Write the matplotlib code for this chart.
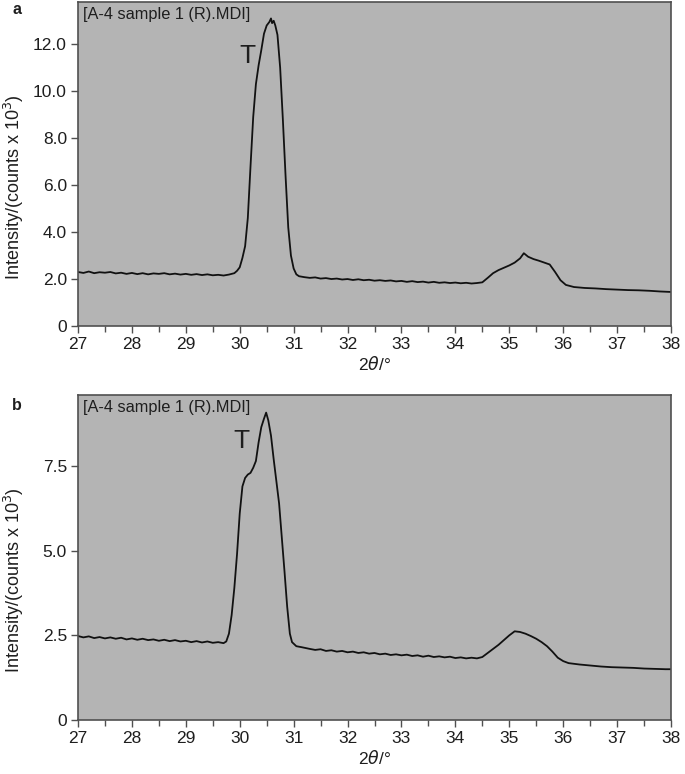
import matplotlib
matplotlib.use("Agg")
import matplotlib.pyplot as plt
from matplotlib.ticker import MultipleLocator, FixedLocator

plt.rcParams['font.family'] = ['Liberation Sans', 'DejaVu Sans']

# ---------------- data ----------------
xa = [27.0, 27.1, 27.2, 27.3, 27.4, 27.5, 27.6, 27.7, 27.8, 27.9,
      28.0, 28.1, 28.2, 28.3, 28.4, 28.5, 28.6, 28.7, 28.8, 28.9,
      29.0, 29.1, 29.2, 29.3, 29.4, 29.5, 29.6, 29.7, 29.8, 29.9,
      29.95, 30.0, 30.05, 30.1, 30.15, 30.2, 30.25, 30.3, 30.35, 30.4,
      30.45, 30.5, 30.55, 30.58, 30.6, 30.63, 30.66, 30.7, 30.75, 30.8,
      30.85, 30.9, 30.95, 31.0, 31.05, 31.1, 31.2, 31.3, 31.4, 31.5,
      31.6, 31.7, 31.8, 31.9, 32.0, 32.1, 32.2, 32.3, 32.4, 32.5,
      32.6, 32.7, 32.8, 32.9, 33.0, 33.1, 33.2, 33.3, 33.4, 33.5,
      33.6, 33.7, 33.8, 33.9, 34.0, 34.1, 34.2, 34.3, 34.4, 34.5,
      34.6, 34.7, 34.8, 34.9, 35.0, 35.1, 35.2, 35.27, 35.35, 35.45,
      35.55, 35.65, 35.75, 35.85, 35.95, 36.05, 36.2, 36.4, 36.6, 36.8,
      37.0, 37.2, 37.4, 37.6, 37.8, 38.0]
ya = [2.30, 2.26, 2.32, 2.25, 2.29, 2.27, 2.30, 2.24, 2.27, 2.22,
      2.26, 2.21, 2.25, 2.20, 2.24, 2.22, 2.25, 2.20, 2.23, 2.19,
      2.22, 2.18, 2.21, 2.17, 2.20, 2.16, 2.18, 2.15, 2.19, 2.25,
      2.35, 2.50, 2.90, 3.40, 4.60, 6.80, 8.90, 10.30, 11.10, 11.75,
      12.45, 12.80, 12.95, 13.10, 12.90, 13.00, 12.80, 12.40, 11.00, 8.80,
      6.40, 4.20, 3.00, 2.45, 2.20, 2.12, 2.08, 2.05, 2.07, 2.02,
      2.04, 2.00, 2.02, 1.98, 2.00, 1.96, 1.99, 1.95, 1.97, 1.93,
      1.95, 1.92, 1.94, 1.90, 1.92, 1.88, 1.91, 1.87, 1.89, 1.85,
      1.88, 1.84, 1.86, 1.83, 1.85, 1.82, 1.84, 1.81, 1.83, 1.86,
      2.05, 2.25, 2.38, 2.48, 2.58, 2.70, 2.88, 3.10, 2.95, 2.85,
      2.78, 2.70, 2.62, 2.30, 1.95, 1.75, 1.66, 1.62, 1.60, 1.57,
      1.55, 1.53, 1.52, 1.50, 1.47, 1.45]

xb = [27.0, 27.1, 27.2, 27.3, 27.4, 27.5, 27.6, 27.7, 27.8, 27.9,
      28.0, 28.1, 28.2, 28.3, 28.4, 28.5, 28.6, 28.7, 28.8, 28.9,
      29.0, 29.1, 29.2, 29.3, 29.4, 29.5, 29.6, 29.7, 29.75, 29.8,
      29.85, 29.9, 29.95, 30.0, 30.05, 30.1, 30.15, 30.2, 30.25, 30.3,
      30.35, 30.4, 30.45, 30.49, 30.53, 30.58, 30.63, 30.68, 30.73, 30.78,
      30.83, 30.88, 30.93, 30.97, 31.05, 31.15, 31.3, 31.4, 31.5, 31.6,
      31.7, 31.8, 31.9, 32.0, 32.1, 32.2, 32.3, 32.4, 32.5, 32.6,
      32.7, 32.8, 32.9, 33.0, 33.1, 33.2, 33.3, 33.4, 33.5, 33.6,
      33.7, 33.8, 33.9, 34.0, 34.1, 34.2, 34.3, 34.4, 34.5, 34.6,
      34.7, 34.8, 34.9, 35.0, 35.1, 35.2, 35.3, 35.4, 35.5, 35.6,
      35.7, 35.8, 35.9, 36.0, 36.1, 36.3, 36.5, 36.7, 36.9, 37.1,
      37.3, 37.5, 37.7, 37.9, 38.0]
yb = [2.48, 2.44, 2.47, 2.42, 2.45, 2.41, 2.44, 2.40, 2.43, 2.38,
      2.41, 2.37, 2.40, 2.36, 2.38, 2.34, 2.37, 2.33, 2.36, 2.32,
      2.34, 2.30, 2.33, 2.29, 2.32, 2.28, 2.30, 2.27, 2.32, 2.55,
      3.10, 3.90, 4.90, 6.10, 6.90, 7.15, 7.25, 7.30, 7.45, 7.65,
      8.20, 8.65, 8.90, 9.08, 8.85, 8.40, 7.70, 7.05, 6.40, 5.40,
      4.40, 3.35, 2.55, 2.30, 2.18, 2.15, 2.10, 2.07, 2.09, 2.04,
      2.06, 2.02, 2.04, 2.00, 2.02, 1.98, 2.00, 1.96, 1.98, 1.94,
      1.96, 1.92, 1.94, 1.91, 1.93, 1.89, 1.91, 1.87, 1.90, 1.86,
      1.88, 1.85, 1.87, 1.83, 1.85, 1.82, 1.84, 1.82, 1.86, 1.98,
      2.10, 2.22, 2.36, 2.50, 2.62, 2.60, 2.55, 2.48, 2.40, 2.30,
      2.18, 2.02, 1.84, 1.74, 1.68, 1.64, 1.61, 1.58, 1.56, 1.55,
      1.54, 1.52, 1.51, 1.50, 1.50]

yticks_a = [0, 2, 4, 6, 8, 10, 12]
yticklabels_a = ["0", "2.0", "4.0", "6.0", "8.0", "10.0", "12.0"]
yticks_b = [0, 2.5, 5.0, 7.5]
yticklabels_b = ["0", "2.5", "5.0", "7.5"]
xticks = list(range(27, 39))

# ---------------- figure ----------------
W, H = 685, 774
fig = plt.figure(figsize=(W / 100, H / 100), dpi=100)

bg = "#b4b4b4"
spine_c = "#505050"
txt_c = "#1e1e1e"

def make_axes(rect, x, y, ylim, yt, ytl, tx, ty):
    ax = fig.add_axes(rect)
    ax.set_facecolor(bg)
    ax.plot(x, y, color="#111111", lw=1.3)
    ax.set_xlim(27, 38)
    ax.set_ylim(*ylim)
    ax.xaxis.set_major_locator(FixedLocator(xticks))
    ax.xaxis.set_minor_locator(MultipleLocator(0.5))
    ax.set_yticks(yt)
    ax.set_yticklabels(ytl)
    ax.tick_params(axis='both', which='major', direction='out', length=5, width=1.0,
                   color=spine_c, labelsize=12.5, labelcolor=txt_c, pad=3)
    ax.tick_params(axis='x', which='minor', direction='out', length=4, width=1.0, color=spine_c)
    for s in ax.spines.values():
        s.set_color(spine_c)
        s.set_linewidth(1.2)
    ax.set_xlabel(r"2$\theta$/°", fontsize=12.5, color=txt_c, labelpad=2)
    ax.set_ylabel("Intensity/(counts x 10$^3$)", fontsize=13, color=txt_c)
    ax.yaxis.set_label_coords(-0.088, 0.43)
    ax.text(0.008, 0.985, "[A-4 sample 1 (R).MDI]", transform=ax.transAxes,
            ha='left', va='top', fontsize=11.8, color=txt_c)
    ax.text(tx, ty, "T", ha='center', va='center', fontsize=19, color=txt_c)
    return ax

ax1 = make_axes([78 / W, 1 - 326 / H, (671 - 78) / W, (326 - 2) / H],
                xa, ya, (0, 13.8), yticks_a, yticklabels_a, 30.15, 11.5)
ax2 = make_axes([78 / W, 1 - 720 / H, (671 - 78) / W, (720 - 395) / H],
                xb, yb, (0, 9.6), yticks_b, yticklabels_b, 30.04, 8.25)

fig.text(12 / W, 1 - 10 / H, "a", fontsize=11.5, fontweight='bold', ha='left', va='center', color=txt_c)
fig.text(12 / W, 1 - 405 / H, "b", fontsize=11.5, fontweight='bold', ha='left', va='center', color=txt_c)

fig.savefig("out.png", dpi=100, facecolor="white")
